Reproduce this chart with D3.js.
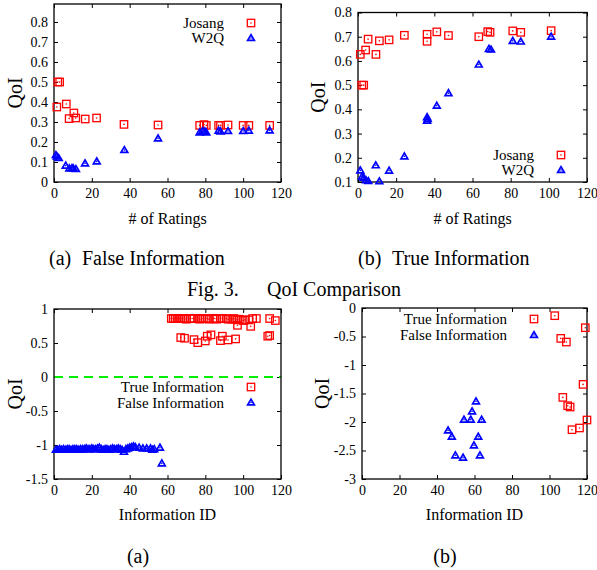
<!DOCTYPE html>
<html>
<head>
<meta charset="utf-8">
<script src="https://cdn.jsdelivr.net/npm/d3@7"></script>
<style>
  body { margin: 0; background: #fff; }
  svg { display: block; }
  text { font-family: "Liberation Serif", "Times New Roman", serif; fill: #000; }
</style>
</head>
<body>
<svg id="chart" width="597" height="570"></svg>
<script>
// ---- data ----
const xTicks = [0, 20, 40, 60, 80, 100, 120];

// Fig 3(a) False Information : [# of ratings, QoI]
const falseJosang = [[1.5,0.375],[2,0.50],[3,0.50],[6.5,0.39],[8,0.317],[10.5,0.345],[11.5,0.32],[16.5,0.315],[22.5,0.32],[37,0.288],[55,0.285],[77,0.283],[79.3,0.287],[80.5,0.283],[87,0.283],[88,0.283],[92,0.285],[100,0.283],[103,0.283],[114,0.283]];
const falseW2Q = [[1,0.135],[1.5,0.128],[2.5,0.12],[6.2,0.082],[8.1,0.068],[9.5,0.07],[10.2,0.068],[11.6,0.065],[16.4,0.093],[22.6,0.103],[37.2,0.16],[55,0.218],[77,0.248],[78.5,0.255],[79.7,0.253],[80.5,0.248],[87,0.257],[88,0.253],[92,0.255],[100,0.255],[103,0.257],[114,0.258]];

// Fig 3(b) True Information : [# of ratings, QoI]
const trueJosang = [[1.2,0.627],[2,0.50],[3,0.50],[4,0.645],[5.3,0.69],[9.4,0.627],[11.2,0.683],[16.3,0.687],[24.3,0.706],[36.2,0.71],[36.2,0.681],[41.3,0.72],[47.4,0.705],[63.3,0.70],[68,0.721],[69.2,0.718],[81.1,0.724],[85.3,0.718],[101.2,0.725]];
const trueW2Q = [[1.2,0.148],[2.1,0.122],[3,0.118],[4.2,0.107],[5.4,0.104],[9.3,0.169],[11.2,0.103],[16.3,0.147],[24.3,0.206],[36.2,0.368],[36.2,0.353],[36.5,0.36],[41.3,0.415],[47.4,0.467],[63.3,0.585],[68.6,0.65],[69.7,0.647],[81.1,0.683],[85.3,0.68],[101.2,0.70]];

// (a) QoI per information item
const trueInfoA = [[62,0.86],[63,0.86],[64,0.86],[65,0.86],[66,0.86],[67,0.86],[68,0.86],[69,0.86],[70,0.85],[72,0.86],[73,0.86],[74,0.86],[76,0.86],[77,0.85],[78,0.86],[79,0.86],[81,0.86],[82,0.85],[84,0.86],[85,0.86],[86,0.85],[88,0.86],[89,0.86],[91,0.86],[92,0.85],[94,0.85],[95,0.86],[96,0.85],[97,0.84],[98,0.85],[100,0.83],[101,0.84],[103,0.84],[105,0.86],[107,0.86],[114,0.86],[117,0.83],
  [67,0.58],[69,0.57],[74,0.55],[76,0.505],[80,0.53],[81,0.6],[83,0.62],[88,0.535],[89,0.6],[92,0.545],[96,0.56],[97,0.76],[104,0.745],[113,0.6],[114,0.61]];
const falseInfoA = [[1,-1.07],[2,-1.07],[3,-1.06],[4,-1.07],[5,-1.06],[6,-1.07],[7,-1.06],[8,-1.06],[9,-1.07],[10,-1.06],[11,-1.06],[12,-1.06],[13,-1.07],[14,-1.06],[15,-1.06],[16,-1.06],[17,-1.05],[18,-1.06],[19,-1.06],[20,-1.05],[21,-1.06],[22,-1.06],[23,-1.05],[24,-1.04],[25,-1.06],[26,-1.07],[27,-1.06],[28,-1.06],[29,-1.07],[30,-1.06],[31,-1.05],[32,-1.06],[33,-1.06],[34,-1.05],[35,-1.06],[36,-1.07],[37,-1.10],[38,-1.06],[39,-1.05],[40,-1.04],[41,-1.03],[42,-1.02],[43,-1.03],[45,-1.04],[47,-1.05],[49,-1.05],[51,-1.05],[52,-1.07],[53,-1.06],[56,-1.04],[57,-1.27]];

// (b) QoI per information item
const trueInfoB = [[102.8,-0.135],[119.1,-0.346],[106,-0.533],[109,-0.597],[117.9,-1.34],[107.1,-1.568],[109.7,-1.714],[111,-1.737],[120,-1.965],[112,-2.135],[116,-2.105]];
const falseInfoB = [[60.8,-1.638],[58.7,-1.813],[54.4,-1.96],[58,-1.96],[63.8,-1.96],[45.9,-2.147],[47.9,-2.258],[62,-2.258],[59.7,-2.41],[49.8,-2.585],[62.9,-2.585],[53.9,-2.626]];

const svg = d3.select("#chart");
const RED = "#ff0000", BLUE = "#0000ff";
const fmt = d => String(+d.toFixed(2));

function marker(g, type, cx, cy) {
  const s = g.append("g").attr("transform", `translate(${cx},${cy})`);
  const col = type === "square" ? RED : BLUE;
  if (type === "square") {
    s.append("rect").attr("x", -3.7).attr("y", -3.7).attr("width", 7.4).attr("height", 7.4)
      .attr("fill", "none").attr("stroke", col).attr("stroke-width", 1.3);
  } else {
    s.append("path").attr("d", d3.symbol(d3.symbolTriangle, 20)())
      .attr("transform", "translate(0,0.5)")
      .attr("fill", "none").attr("stroke", col).attr("stroke-width", 1.7);
  }
  s.append("circle").attr("r", 0.8).attr("fill", col);
}

function drawPanel(p) {
  const g = svg.append("g");
  const x = d3.scaleLinear().domain([0, 120]).range([p.left, p.right]);
  const y = d3.scaleLinear().domain(p.yDomain).range([p.bottom, p.top]);

  const styleAxis = a => {
    a.select(".domain").remove();
    a.selectAll("line").attr("stroke", "#000").attr("stroke-width", 1);
    a.selectAll("text").attr("font-family", "Liberation Serif, serif").attr("font-size", 14).attr("fill", "#000");
  };

  g.append("g").attr("transform", `translate(0,${p.bottom})`)
    .call(d3.axisBottom(x).tickValues(xTicks).tickSizeInner(-4).tickSizeOuter(0).tickPadding(6).tickFormat(fmt))
    .call(styleAxis);
  g.append("g").attr("transform", `translate(0,${p.top})`)
    .call(d3.axisTop(x).tickValues(xTicks).tickSizeInner(-4).tickSizeOuter(0).tickFormat(""))
    .call(styleAxis);
  g.append("g").attr("transform", `translate(${p.left},0)`)
    .call(d3.axisLeft(y).tickValues(p.yTicks).tickSizeInner(-4).tickSizeOuter(0).tickPadding(6).tickFormat(fmt))
    .call(styleAxis);
  g.append("g").attr("transform", `translate(${p.right},0)`)
    .call(d3.axisRight(y).tickValues(p.yTicks).tickSizeInner(-4).tickSizeOuter(0).tickFormat(""))
    .call(styleAxis);

  if (p.zeroLine) {
    g.append("line").attr("x1", p.left).attr("x2", p.right).attr("y1", y(0)).attr("y2", y(0))
      .attr("stroke", "#00ee00").attr("stroke-width", 2).attr("stroke-dasharray", "9,6");
  }

  g.append("rect").attr("x", p.left).attr("y", p.top)
    .attr("width", p.right - p.left).attr("height", p.bottom - p.top)
    .attr("fill", "none").attr("stroke", "#000").attr("stroke-width", 1.3);

  p.series.forEach(s => {
    s.data.forEach(d => marker(g, s.type, x(d[0]), y(d[1])));
  });

  // legend
  p.series.forEach((s, i) => {
    const ly = p.legend.y + i * p.legend.dy;
    g.append("text").attr("x", p.legend.x).attr("y", ly).attr("dy", "0.35em")
      .attr("text-anchor", "end").attr("font-size", 15).text(s.name);
    marker(g, s.type, p.legend.x + 27, ly);
  });

  g.append("text")
    .attr("transform", `translate(${p.yLabelX},${(p.top + p.bottom) / 2}) rotate(-90)`)
    .attr("text-anchor", "middle").attr("font-size", 20).text("QoI");
  g.append("text").attr("x", (p.left + p.right) / 2).attr("y", p.xLabelY)
    .attr("text-anchor", "middle").attr("font-size", 16).text(p.xLabel);
}

drawPanel({
  left: 54, right: 281, top: 4, bottom: 182, yDomain: [0, 0.89],
  yTicks: [0, 0.1, 0.2, 0.3, 0.4, 0.5, 0.6, 0.7, 0.8],
  series: [{ name: "Josang", type: "square", data: falseJosang }, { name: "W2Q", type: "tri", data: falseW2Q }],
  legend: { x: 224, y: 23, dy: 15 }, yLabelX: 22, xLabel: "# of Ratings", xLabelY: 224
});
drawPanel({
  left: 358, right: 587, top: 12.5, bottom: 182, yDomain: [0.1, 0.8],
  yTicks: [0.1, 0.2, 0.3, 0.4, 0.5, 0.6, 0.7, 0.8],
  series: [{ name: "Josang", type: "square", data: trueJosang }, { name: "W2Q", type: "tri", data: trueW2Q }],
  legend: { x: 534, y: 155, dy: 15 }, yLabelX: 325, xLabel: "# of Ratings", xLabelY: 224
});
drawPanel({
  left: 54, right: 281, top: 309, bottom: 479, yDomain: [-1.5, 1],
  yTicks: [-1.5, -1, -0.5, 0, 0.5, 1], zeroLine: true,
  series: [{ name: "True Information", type: "square", data: trueInfoA }, { name: "False Information", type: "tri", data: falseInfoA }],
  legend: { x: 224, y: 387, dy: 15.5 }, yLabelX: 22, xLabel: "Information ID", xLabelY: 520
});
drawPanel({
  left: 362, right: 587, top: 308, bottom: 479, yDomain: [-3, 0],
  yTicks: [-3, -2.5, -2, -1.5, -1, -0.5, 0],
  series: [{ name: "True Information", type: "square", data: trueInfoB }, { name: "False Information", type: "tri", data: falseInfoB }],
  legend: { x: 507, y: 319, dy: 16 }, yLabelX: 329, xLabel: "Information ID", xLabelY: 520
});

// captions
const cap = (x, y, t, anchor) => svg.append("text").attr("x", x).attr("y", y)
  .attr("text-anchor", anchor || "start").attr("font-size", 20).text(t);
cap(49, 265, "(a)");
cap(82, 265, "False Information");
cap(358, 265, "(b)");
cap(392, 265, "True Information");
cap(187, 296, "Fig. 3.");
cap(267, 296, "QoI Comparison");
cap(138, 563, "(a)", "middle");
cap(445, 563, "(b)", "middle");
</script>
</body>
</html>
